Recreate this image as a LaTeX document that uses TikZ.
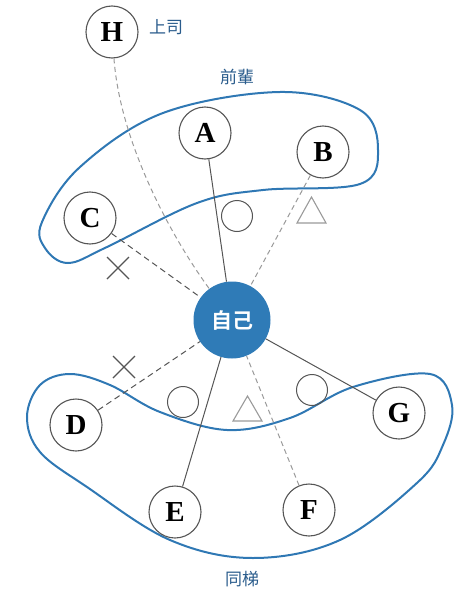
\documentclass[tikz,border=0pt]{standalone}
\usepackage{fontspec}
\newfontfamily\cjk{Noto Sans CJK TC}
\newfontfamily\cjkb{Noto Sans CJK TC Bold}
\newfontfamily\lettfont{Liberation Serif}
\definecolor{blobblue}{HTML}{2F78B4}
\definecolor{selfblue}{HTML}{2F7BB7}
\definecolor{labelblue}{HTML}{2A5C8C}
\definecolor{darkline}{HTML}{555555}
\definecolor{lightline}{HTML}{9A9A9A}
\tikzset{
  person/.style={circle, draw=darkline, line width=1.1pt, fill=white, minimum size=52pt, inner sep=0pt,
    font=\lettfont\bfseries\fontsize{29}{29}\selectfont},
  selfnode/.style={circle, fill=selfblue, minimum size=77pt, inner sep=0pt, text=white,
    font=\cjkb\fontsize{21}{21}\selectfont},
  grouplabel/.style={text=labelblue, font=\cjk\fontsize{17}{17}\selectfont},
  solidlink/.style={draw=darkline, line width=1pt},
  darkdash/.style={draw=darkline, line width=1pt, dash pattern=on 6pt off 4pt},
  lightdash/.style={draw=lightline, line width=1pt, dash pattern=on 5pt off 3.5pt},
  blob/.style={draw=blobblue, line width=2pt},
  okmark/.style={circle, draw=darkline, line width=1pt, minimum size=31pt, inner sep=0pt},
  trimark/.style={draw=lightline, line width=1.1pt},
  xmark/.style={draw=darkline, line width=1.1pt}
}
\begin{document}
\begin{tikzpicture}[x=1pt,y=-1pt]
\useasboundingbox (0,0) rectangle (472,602);
% groups
\draw[blob] plot[smooth cycle, tension=0.6] coordinates {(42,222) (80,167) (163,113) (280,92) (360,110) (378,150) (360,184) (263,190) (197,203) (107,247) (68,263) (45,248)};
\draw[blob] plot[smooth cycle, tension=0.6] coordinates {(27,417) (40,385) (70,374) (110,385) (160,412) (227,430) (290,418) (353,387) (430,374) (452,405) (443,445) (418,482) (340,540) (253,558) (170,540) (87,487) (40,452)};
% nodes
\node[selfnode] (self) at (232,320) {自己};
\node[person] (H) at (112,32) {H};
\node[person] (A) at (205,133) {A};
\node[person] (B) at (323,152) {B};
\node[person] (C) at (90,218) {C};
\node[person] (D) at (76,425) {D};
\node[person] (E) at (175,512) {E};
\node[person] (F) at (309,510) {F};
\node[person] (G) at (399,413) {G};
% links
\draw[lightdash] (H) .. controls (120,140) and (168,232) .. (self);
\draw[solidlink] (A) -- (self);
\draw[lightdash] (B) -- (self);
\draw[darkdash] (C) -- (self);
\draw[darkdash] (D) -- (self);
\draw[solidlink] (E) -- (self);
\draw[lightdash] (F) -- (self);
\draw[solidlink] (G) -- (self);
% marks
\node[okmark] (o1) at (237,216) {};
\node[okmark] (o2) at (183,402) {};
\node[okmark] (o3) at (312,390) {};
\draw[trimark] (297,223) -- (311.5,197) -- (326,223) -- cycle;
\draw[trimark] (233,421) -- (247.5,396) -- (262,421) -- cycle;
\draw[xmark] (107,257) -- (129,279) (107,279) -- (129,257);
\draw[xmark] (113,356) -- (135,378) (113,378) -- (135,356);
% labels
\node[grouplabel] (lh) at (166,27) {上司};
\node[grouplabel] (lu) at (237,77) {前輩};
\node[grouplabel] (ll) at (242,579) {同梯};
\end{tikzpicture}
\end{document}
